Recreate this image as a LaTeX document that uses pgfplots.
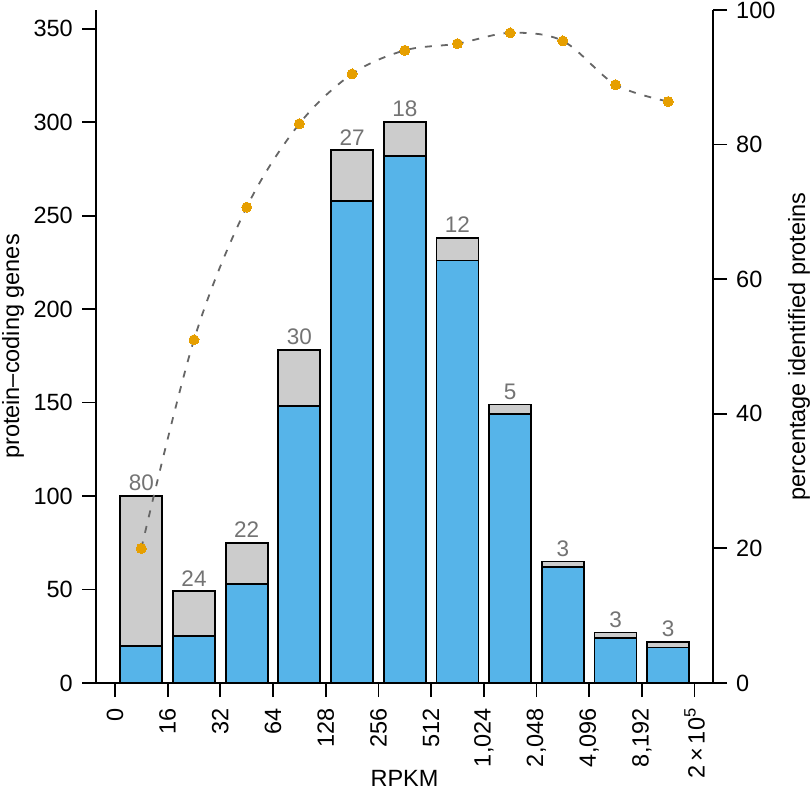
\documentclass[border=0pt]{standalone}
\usepackage{pgfplots}
\pgfplotsset{compat=1.18}
\usepackage{pgfplotstable}
\usepackage{fontspec}
\setmainfont{Liberation Sans}
\definecolor{skyblue}{HTML}{56B4E9}
\definecolor{orng}{HTML}{E69F00}
\definecolor{barg}{HTML}{CCCCCC}
\definecolor{lblg}{HTML}{737373}
\definecolor{lineg}{HTML}{666666}
\pgfplotstableread{
x blue gray total pct
0.5 20 80 100 20.0
1.5 25 24 49 51.0
2.5 53 22 75 70.7
3.5 148 30 178 83.1
4.5 258 27 285 90.5
5.5 282 18 300 94.0
6.5 226 12 238 95.0
7.5 144 5 149 96.6
8.5 62 3 65 95.4
9.5 24 3 27 88.9
10.5 19 3 22 86.4
}\data
\pgfplotsset{
 common/.style={
  scale only axis, width=617pt, height=673pt,
  xmin=-0.36, xmax=11.35, ymin=0,
  tick align=outside, major tick length=14pt,
  axis line style={line width=1.8pt, black},
  major tick style={line width=1.8pt, black},
  /pgf/number format/assume math mode=true,
  every tick label/.append style={font=\fontsize{23.5}{28}\selectfont},
  label style={font=\fontsize{23.5}{28}\selectfont},
  clip=false,
 }
}
\begin{document}
\begin{tikzpicture}
\path[use as bounding box] (-96pt,-108pt) rectangle (714pt,683pt);
\begin{axis}[common,
 ymax=360,
 axis x line*=bottom, axis y line*=left,
 ybar stacked, bar width=42pt,
 xtick={0,...,11},
 xticklabels={0,16,32,64,128,256,512,{1,024},{2,048},{4,096},{8,192},{2\,×\,10\textsuperscript{5}}},
 ytick={0,50,...,350},
 xticklabel style={rotate=90, anchor=east, inner sep=0pt},
 xticklabel shift=11pt,
 yticklabel style={anchor=east, inner sep=0pt},
 yticklabel shift=9pt,
 xlabel={RPKM},
 xlabel style={at={(axis description cs:0.5,-0.142)}, anchor=center},
 ylabel={protein–coding genes},
 ylabel style={at={(axis description cs:-0.1345,0.5)}, anchor=center, rotate=0},
]
\addplot[fill=skyblue, draw=black, line width=1.8pt] table[x=x, y=blue] {\data};
\addplot[fill=barg, draw=black, line width=1.8pt] table[x=x, y=gray] {\data};
\end{axis}
\begin{axis}[common,
 ymax=360, axis lines=none, ticks=none,
]
\addplot[draw=none, mark=none,
  nodes near coords, point meta=explicit,
  every node near coord/.style={anchor=south, inner sep=0pt, yshift=5pt, text=lblg, font=\fontsize{22.5}{27}\selectfont}]
  table[x=x, y=total, meta=gray] {\data};
\end{axis}
\begin{axis}[common,
 ymax=100,
 axis y line*=right, axis x line=none,
 ytick={0,20,...,100},
 yticklabel style={anchor=west, inner sep=0pt},
 yticklabel shift=9pt,
 ylabel={percentage identified proteins},
 ylabel style={at={(axis description cs:1.1394,0.5)}, anchor=center, rotate=0},
]
\addplot[lineg, line width=1.8pt, dash pattern=on 7pt off 9pt, smooth, tension=0.55, mark=none] table[x=x, y=pct] {\data};
\addplot[only marks, orng, mark=*, mark size=5pt, mark options={draw=orng, fill=orng, line width=0pt}] table[x=x, y=pct] {\data};
\end{axis}
\end{tikzpicture}
\end{document}
